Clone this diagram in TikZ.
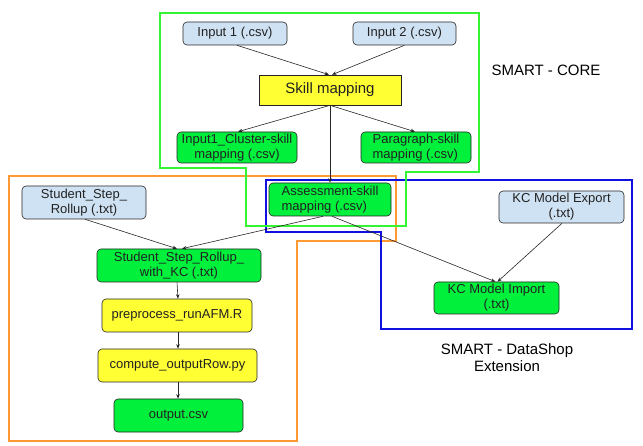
\documentclass[tikz,border=0pt]{standalone}
\usepackage{fontspec}
\setmainfont{Liberation Sans}
\usetikzlibrary{arrows.meta}
\definecolor{lblue}{HTML}{CFE2F3}
\definecolor{lgreen}{HTML}{00F03C}
\definecolor{lyellow}{HTML}{FFFF33}
\definecolor{cgreen}{HTML}{33F533}
\definecolor{corange}{HTML}{FF9933}
\definecolor{cblue}{HTML}{1010E0}
\definecolor{txt}{HTML}{222222}
\tikzset{
  box/.style={draw=black!85, line width=0.6pt, rounded corners=4pt, align=center, inner sep=0pt,
    font=\fontsize{13}{15}\selectfont, text=txt},
  inbox/.style={box, fill=lblue},
  outbox/.style={box, fill=lgreen},
  procbox/.style={box, fill=lyellow},
  conn/.style={draw=black!85, line width=0.6pt, -{Stealth[length=4.5pt,width=3.5pt]}},
  region/.style={line width=1.6pt},
  lbl/.style={align=center, font=\fontsize{15}{17}\selectfont, text=black, inner sep=0pt}
}
\begin{document}
\begin{tikzpicture}[x=1pt,y=-1pt]
\useasboundingbox (0,0) rectangle (643,446);
% regions
\draw[region, draw=corange] (9,176) -- (396,176) -- (396,241) -- (297,241) -- (297,441) -- (9,441) -- cycle;
\draw[region, draw=cblue] (266,180) -- (632,180) -- (632,329) -- (381,329) -- (381,232) -- (266,232) -- cycle;
\draw[region, draw=cgreen] (160,13) -- (479,13) -- (479,172) -- (406,172) -- (406,226) -- (246,226) -- (246,168) -- (160,168) -- cycle;
% nodes
\node[inbox, minimum width=104pt, minimum height=23pt] (in1) at (235,33.5) {Input 1 (.csv)};
\node[inbox, minimum width=103pt, minimum height=23pt] (in2) at (404.5,33.5) {Input 2 (.csv)};
\node[procbox, rounded corners=0pt, minimum width=142pt, minimum height=30pt, font=\fontsize{15}{17}\selectfont] (skill) at (330,90) {Skill mapping};
\node[outbox, minimum width=120pt, minimum height=31pt] (clus) at (237,147.5) {Input1\_Cluster-skill\\mapping (.csv)};
\node[outbox, align=left, minimum width=110pt, minimum height=31pt] (para) at (416,147.5) {Paragraph-skill\\mapping (.csv)};
\node[outbox, align=left, minimum width=122pt, minimum height=33pt] (assess) at (330,199.5) {Assessment-skill\\mapping (.csv)};
\node[inbox, minimum width=124pt, minimum height=33pt] (ssr) at (84,202.5) {Student\_Step\_\\Rollup (.txt)};
\node[outbox, minimum width=164pt, minimum height=33pt] (ssrkc) at (179,265.5) {Student\_Step\_Rollup\_\\with\_KC (.txt)};
\node[procbox, minimum width=150pt, minimum height=33pt] (prep) at (177,315.5) {preprocess\_runAFM.R};
\node[procbox, minimum width=159pt, minimum height=33pt] (comp) at (177.5,365.5) {compute\_outputRow.py};
\node[outbox, minimum width=129pt, minimum height=33pt] (out) at (178.5,415.5) {output.csv};
\node[inbox, minimum width=125pt, minimum height=32pt] (kcexp) at (561.5,207) {KC Model Export\\(.txt)};
\node[outbox, minimum width=125pt, minimum height=32pt] (kcimp) at (496.5,298) {KC Model Import\\(.txt)};
% labels
\node[lbl] (core) at (546,70) {SMART - CORE};
\node[lbl] (ext) at (507,358) {SMART - DataShop\\Extension};
% connectors
\draw[conn] ([xshift=2pt]in1.south) -- ([xshift=-1pt]skill.north);
\draw[conn] (in2.south) -- ([xshift=2pt]skill.north);
\draw[conn] (skill.south) -- ([xshift=1pt]clus.north);
\draw[conn] (skill.south) -- ([xshift=-1pt]para.north);
\draw[conn] (skill.south) -- (assess.north);
\draw[conn] ([xshift=-7pt]assess.south) -- ([xshift=3pt]ssrkc.north);
\draw[conn] ([xshift=2pt]assess.south) -- ([xshift=-1pt]kcimp.north);
\draw[conn] ([xshift=1pt]ssr.south) -- ([xshift=-2pt]ssrkc.north);
\draw[conn] ([xshift=0.5pt]kcexp.south) -- ([xshift=1pt]kcimp.north);
\draw[conn] ([xshift=-2pt]ssrkc.south) -- ([xshift=1pt]prep.north);
\draw[conn] ([xshift=1pt]prep.south) -- ([xshift=0.5pt]comp.north);
\draw[conn] ([xshift=0.5pt]comp.south) -- ([xshift=-0.5pt]out.north);
\end{tikzpicture}
\end{document}
